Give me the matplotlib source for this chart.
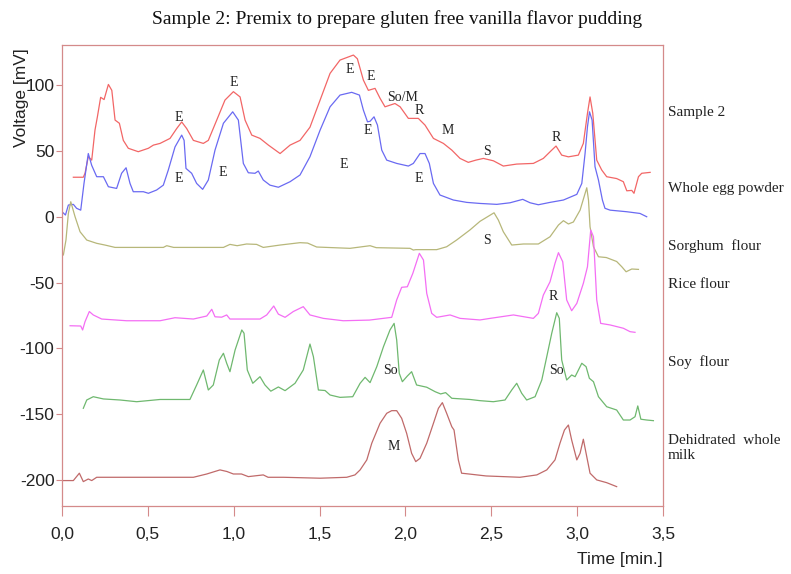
import matplotlib
matplotlib.use("Agg")
import matplotlib.pyplot as plt

# chromatogram traces (time in min, voltage in mV)
sample2_t = [0.066, 0.124, 0.134, 0.153, 0.173, 0.192, 0.206, 0.225, 0.245, 0.270, 0.290, 0.309, 0.334,
             0.357, 0.386, 0.444, 0.503, 0.532, 0.571, 0.629, 0.668, 0.697, 0.726, 0.765, 0.823, 0.852,
             0.901, 0.949, 0.998, 1.037, 1.066, 1.105, 1.153, 1.202, 1.27, 1.328, 1.386, 1.444, 1.503,
             1.561, 1.619, 1.697, 1.72, 1.755, 1.784, 1.823, 1.852, 1.881, 1.939, 1.969, 2.017, 2.075,
             2.114, 2.163, 2.221, 2.27, 2.318, 2.366, 2.41, 2.454, 2.512, 2.57, 2.648, 2.745, 2.803,
             2.852, 2.877, 2.91, 2.949, 3.007, 3.036, 3.06, 3.075, 3.091, 3.114, 3.143, 3.172, 3.23,
             3.269, 3.289, 3.318, 3.331, 3.357, 3.376, 3.425]
sample2_v = [30, 30, 33, 45.6, 43, 65.8, 75.9, 90.7, 89, 100.5, 96, 73.4, 71,
             58, 52, 49.4, 52, 54.4, 55.7, 59.5, 67, 72, 67, 58, 55.7, 58,
             73.4, 88.6, 95, 91, 73.4, 62, 59.5, 54.4, 48, 54.4, 58, 68, 88.6,
             108.9, 119, 122.8, 120, 103.8, 96, 97.5, 90, 83.5, 86, 83.5, 74.7, 74.7,
             69.6, 59.5, 55.7, 50.6, 44.3, 41.3, 43, 44.3, 42.5, 38.5, 40, 40.5, 44.3,
             50.6, 53.7, 46.8, 45.5, 46.8, 55.7, 78.5, 91, 78.5, 43, 35.5, 30.4, 29,
             26.6, 19.7, 20, 17.8, 30.4, 33, 33.7]

egg_t = [0.0, 0.02, 0.037, 0.066, 0.085, 0.109, 0.128, 0.153, 0.173, 0.202, 0.241, 0.27, 0.318, 0.347,
         0.373, 0.396, 0.415, 0.474, 0.503, 0.551, 0.59, 0.619, 0.658, 0.697, 0.711, 0.722, 0.755,
         0.784, 0.819, 0.852, 0.891, 0.94, 0.994, 1.027, 1.056, 1.085, 1.124, 1.143, 1.172, 1.211,
         1.26, 1.328, 1.386, 1.444, 1.503, 1.561, 1.619, 1.687, 1.732, 1.755, 1.779, 1.794, 1.817,
         1.837, 1.862, 1.891, 1.949, 2.017, 2.046, 2.085, 2.114, 2.139, 2.163, 2.201, 2.279, 2.357,
         2.434, 2.532, 2.609, 2.683, 2.726, 2.774, 2.842, 2.92, 2.998, 3.027, 3.046, 3.06, 3.072,
         3.087, 3.104, 3.124, 3.147, 3.162, 3.192, 3.289, 3.366, 3.405]
egg_v = [3.8, 1.3, 8.9, 9.4, 6.4, 5, 25.3, 48, 39, 30.4, 30.4, 22.8, 21.5, 33,
         37.2, 25.3, 19, 19, 17.8, 20.3, 24, 35.5, 53, 62, 58, 36.7, 33,
         25.3, 20.8, 27.9, 50.6, 71, 79.7, 73.4, 40.5, 33.4, 33, 34.7, 27.9, 24,
         22.4, 26.6, 31.7, 45.6, 65.8, 83.5, 92.4, 94.5, 92.4, 81, 72.1, 72.5, 75.9,
         69.6, 50.6, 43, 40.5, 38.5, 40.5, 48, 48, 40.5, 25.3, 16.5, 12.7, 10.9,
         10.1, 9.4, 10.6, 13.2, 10.6, 9.1, 10.9, 12.7, 17, 25.3, 48, 68.3, 79.7,
         73.4, 38, 27.9, 12.7, 6.4, 5, 3.8, 2.5, 0]

sorghum_t = [0.008, 0.023, 0.037, 0.051, 0.076, 0.105, 0.144, 0.202, 0.25, 0.309, 0.59, 0.61, 0.65,
             0.94, 0.978, 1.02, 1.075, 1.133, 1.172, 1.27, 1.386, 1.43, 1.483, 1.677, 1.794, 1.83,
             2.027, 2.046, 2.06, 2.182, 2.24, 2.298, 2.376, 2.434, 2.516, 2.541, 2.57, 2.619, 2.687,
             2.774, 2.842, 2.891, 2.92, 2.949, 2.978, 3.017, 3.056, 3.066, 3.075, 3.095, 3.124,
             3.17, 3.23, 3.26, 3.285, 3.318, 3.357]
sorghum_v = [-29, -17.7, 2.6, 11.4, 0, -11.4, -17.7, -20.2, -21.5, -23.3, -23.3, -22, -23.3,
             -23.3, -21, -22, -20.7, -21, -23.3, -21.5, -19.7, -20, -23, -24, -22, -23.5,
             -24, -25.3, -25, -25, -22.8, -17.7, -10, -3.5, 3, -2.5, -11.4, -21.5, -20.7,
             -20.7, -15.2, -6.3, -3, -5.5, -4, 5, 22, 12.7, -7.6, -22.8, -30.4,
             -31, -34, -38, -41.8, -39.7, -40]

rice_t = [0.047, 0.109, 0.12, 0.134, 0.159, 0.182, 0.231, 0.376, 0.571, 0.658, 0.765, 0.843, 0.872,
          0.891, 0.93, 0.959, 0.978, 1.153, 1.192, 1.233, 1.26, 1.299, 1.347, 1.405, 1.444, 1.522,
          1.638, 1.79, 1.92, 1.949, 1.978, 2.011, 2.043, 2.081, 2.105, 2.124, 2.153, 2.182, 2.26,
          2.318, 2.434, 2.493, 2.629, 2.745, 2.774, 2.803, 2.842, 2.871, 2.891, 2.916, 2.939,
          2.968, 2.998, 3.036, 3.06, 3.079, 3.095, 3.114, 3.137, 3.192, 3.269, 3.308, 3.337]
rice_v = [-82.8, -83, -86, -79.7, -72, -74.6, -77.7, -79, -79, -76.7, -77.7, -75.4, -70.3,
          -76, -76.3, -74.6, -77.7, -77.7, -74.6, -67.8, -74, -76.4, -72, -68.3, -74.6, -77.2,
          -79, -78.5, -76.4, -63.2, -53.6, -53.2, -43, -27.8, -32.9, -58.2, -73.4, -76.4, -74.6,
          -77.2, -78.4, -77.2, -74.6, -77.2, -73.4, -59.5, -49.4, -35.4, -27.3, -34.2, -63.2,
          -71.4, -65.8, -50.6, -38, -10.1, -15.2, -63.2, -81, -82.2, -84.7, -87.3, -87.8]

soy_t = [0.124, 0.144, 0.182, 0.241, 0.338, 0.435, 0.571, 0.687, 0.745, 0.784, 0.823, 0.852, 0.881,
         0.916, 0.94, 0.959, 0.978, 1.008, 1.047, 1.06, 1.079, 1.111, 1.153, 1.182, 1.216, 1.26,
         1.299, 1.357, 1.405, 1.444, 1.464, 1.493, 1.532, 1.561, 1.619, 1.693, 1.736, 1.765, 1.794,
         1.833, 1.872, 1.91, 1.934, 1.949, 1.964, 1.982, 2.011, 2.036, 2.065, 2.124, 2.173, 2.205,
         2.234, 2.27, 2.376, 2.434, 2.512, 2.58, 2.619, 2.648, 2.677, 2.706, 2.755, 2.794, 2.823,
         2.852, 2.881, 2.896, 2.91, 2.939, 2.968, 2.988, 3.027, 3.052, 3.071, 3.095, 3.124, 3.172,
         3.23, 3.269, 3.308, 3.337, 3.353, 3.371, 3.405, 3.444]
soy_v = [-145.5, -139.2, -136.7, -138.4, -139.2, -140.5, -138.8, -138.8, -138.8, -127.8, -116.4, -131.6, -127.8,
         -108.8, -103.7, -111.3, -117.7, -101.2, -86, -88.5, -116.4, -126.5, -121.5, -127.8, -132.5, -129.3,
         -132.1, -126.5, -116.4, -96.7, -106.3, -131.6, -132, -135.4, -137.2, -136.7, -126.5, -122, -126,
         -113.9, -98.7, -86, -81, -93.6, -118.9, -125.3, -121, -117.7, -127.8, -129.5, -132.9, -134.6,
         -133.6, -137.9, -138.8, -139.7, -140.5, -139.2, -131.6, -126.5, -134.1, -139.2, -136.7, -124, -106.3,
         -88.5, -72.9, -77.2, -108.8, -124, -120.2, -121.5, -111.3, -113.9, -122.7, -125.3, -136.7, -144.3,
         -146.8, -154.4, -154.4, -151.9, -143.7, -153.8, -154.4, -154.9]

milk_t = [0.0, 0.066, 0.101, 0.124, 0.153, 0.173, 0.202, 0.765, 0.843, 0.92, 0.96, 0.998, 1.045, 1.085,
          1.172, 1.2, 1.29, 1.503, 1.658, 1.706, 1.736, 1.775, 1.804, 1.852, 1.891, 1.92, 1.949,
          1.978, 2.007, 2.036, 2.06, 2.085, 2.124, 2.163, 2.192, 2.215, 2.24, 2.27, 2.283, 2.308,
          2.327, 2.376, 2.47, 2.57, 2.667, 2.765, 2.823, 2.871, 2.9, 2.926, 2.949, 2.968, 2.998,
          3.017, 3.036, 3.052, 3.075, 3.114, 3.172, 3.23]
milk_v = [-200.4, -200.4, -194.8, -201.2, -199.2, -200.4, -197.9, -197.9, -195.4, -192.3, -193.5, -195.4, -195.4, -197.4,
          -196.1, -197.9, -197.9, -198.6, -197.9, -196.1, -192.3, -184.7, -172, -156.9, -149.3, -147.3, -147.3,
          -153.1, -164.5, -179.7, -186, -183.5, -172, -156.9, -145.5, -141.2, -149.3, -159.5, -162, -184.7,
          -194.8, -195.5, -196.9, -197.4, -197.9, -196.1, -192.3, -184.7, -172, -162, -158.2, -169.6, -184.7,
          -179.7, -169, -179.7, -194.8, -199.9, -202, -205]

trace_labels = ["Sample 2", "Whole egg powder", "Sorghum  flour", "Rice flour",
                "Soy  flour", "Dehidrated  whole\nmilk"]
label_levels = [79.5, 21.8, -22.2, -51.1, -110.3, -175.7]

peak_text = ["E", "E", "E", "E", "So/M", "R", "M", "S", "R",
             "E", "E", "E", "E", "E", "S", "R", "So", "So", "M"]
peak_t = [0.678, 0.998, 1.673, 1.798, 1.982, 2.079, 2.244, 2.473, 2.877,
          0.678, 0.934, 1.638, 1.778, 2.075, 2.473, 2.861, 1.913, 2.877, 1.929]
peak_v = [75.5, 101.7, 111.9, 106.8, 90.6, 81, 65.8, 49.9, 60.3,
          29, 33.4, 39.3, 65.8, 29, -18.2, -60.7, -117, -117, -174.6]

serif = "Liberation Serif"
sans = "Liberation Sans"
frame = "#d48a8a"

fig = plt.figure(figsize=(7.91, 5.74), dpi=100)
ax = fig.add_axes([0.0784, 0.1185, 0.7598, 0.803])

lw = 0.9
ax.plot(sample2_t, sample2_v, color="#f26666", lw=lw)
ax.plot(egg_t, egg_v, color="#6a6af2", lw=lw)
ax.plot(sorghum_t, sorghum_v, color="#b7b77a", lw=lw)
ax.plot(rice_t, rice_v, color="#f46ef4", lw=lw)
ax.plot(soy_t, soy_v, color="#6fb86f", lw=lw)
ax.plot(milk_t, milk_v, color="#c06a6a", lw=lw)

for txt, t, v in zip(peak_text, peak_t, peak_v):
    ax.text(t, v, txt, ha="center", va="center", fontsize=10, family=serif, color="#222222")

for txt, v in zip(trace_labels, label_levels):
    ax.annotate(txt, xy=(1.008, v), xycoords=("axes fraction", "data"), ha="left", va="center",
                fontsize=11, family=serif, color="#222222", annotation_clip=False, linespacing=1.25)

ax.set_xlim(0, 3.5)
ax.set_ylim(-219.7, 130.4)

xt = [0, 0.5, 1.0, 1.5, 2.0, 2.5, 3.0, 3.5]
ax.set_xticks(xt)
ax.set_xticklabels([f"{v:.1f}".replace(".", ",") for v in xt], family=sans, fontsize=12.5)
yt = [-200, -150, -100, -50, 0, 50, 100]
ax.set_yticks(yt)
ax.set_yticklabels([str(v) for v in yt], family=sans, fontsize=12.5)
ax.tick_params(axis="x", length=7, pad=8, color=frame, labelcolor="#222222")
ax.tick_params(axis="y", length=4, pad=1.5, color=frame, labelcolor="#222222")
for s in ax.spines.values():
    s.set_color(frame)
    s.set_linewidth(0.9)

fig.text(0.027, 0.830, "Voltage [mV]", rotation=90, ha="center", va="center",
         family=sans, fontsize=12.5, color="#222222")
fig.text(0.838, 0.0244, "Time [min.]", ha="right", va="center", family=sans,
         fontsize=12.5, color="#222222")
fig.text(0.502, 0.966, "Sample 2: Premix to prepare gluten free vanilla flavor pudding",
         ha="center", va="center", family=serif, fontsize=14, color="#111111")

fig.savefig("out.png", dpi=100)
